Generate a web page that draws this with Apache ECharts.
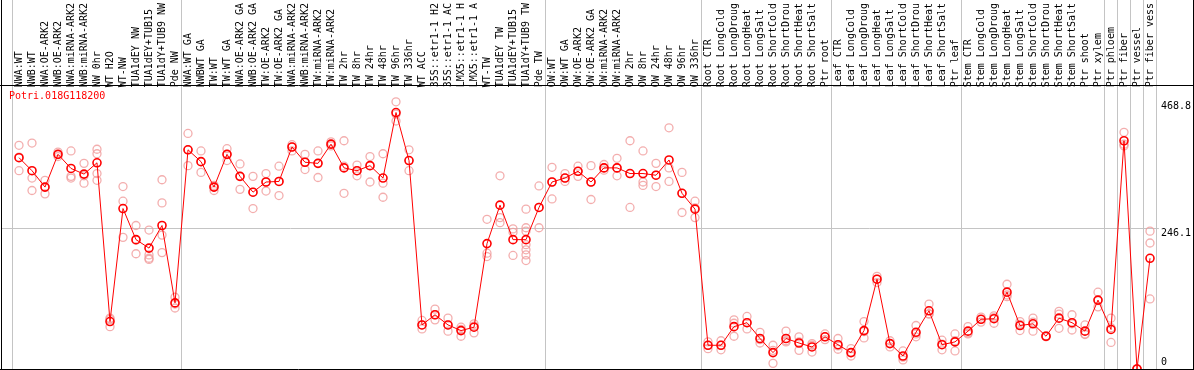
<!DOCTYPE html>
<html><head><meta charset="utf-8">
<script src="https://cdn.jsdelivr.net/npm/echarts@6/dist/echarts.min.js"></script>
<style>html,body{margin:0;padding:0;background:#fff}#c{width:1194px;height:370px}</style>
</head><body><div id="c"></div>
<script>
const geneTitle = 'Potri.018G118200';
const categories = [
 'NWA:WT','NWB:WT','NWA:OE-ARK2','NWB:OE-ARK2','NWA:miRNA-ARK2','NWB:miRNA-ARK2','NW 0hr','WT H2O','WT-NW','TUA1dEY NW','TUA1dEY+TUB15','TUA1dY+TUB9 NW','Pde NW',
 'NWA:WT GA','NWBWT GA','TW:WT','TW:WT GA','NWA:OE-ARK2 GA','NWB:OE-ARK2 GA','TW:OE-ARK2','TW:OE-ARK2 GA','NWA:miRNA-ARK2','NWB:miRNA-ARK2','TW:miRNA-ARK2','TW:miRNA-ARK2',
 'TW 2hr','TW 8hr','TW 24hr','TW 48hr','TW 96hr','TW 336hr','WT ACC','35S::etr1-1 H2','35S::etr1-1 AC','LMX5::etr1-1 H','LMX5::etr1-1 A','WT-TW','TUA1dEY TW','TUA1dEY+TUB15','TUA1dY+TUB9 TW','Pde TW',
 'OW:WT','OW:WT GA','OW:OE-ARK2','OW:OE-ARK2 GA','OW:miRNA-ARK2','OW:miRNA-ARK2','OW 2hr','OW 8hr','OW 24hr','OW 48hr','OW 96hr','OW 336hr',
 'Root CTR','Root LongCold','Root LongDroug','Root LongHeat','Root LongSalt','Root ShortCold','Root ShortDrou','Root ShortHeat','Root ShortSalt','Ptr root',
 'Leaf CTR','Leaf LongCold','Leaf LongDroug','Leaf LongHeat','Leaf LongSalt','Leaf ShortCold','Leaf ShortDrou','Leaf ShortHeat','Leaf ShortSalt','Ptr leaf',
 'Stem CTR','Stem LongCold','Stem LongDroug','Stem LongHeat','Stem LongSalt','Stem ShortCold','Stem ShortDrou','Stem ShortHeat','Stem ShortSalt','Ptr shoot','Ptr xylem',
 'Ptr phloem','Ptr fiber','Ptr vessel','Ptr fiber vess'
];
const meanValues = [
 374,351,322,380,355,345,365,84,284,229,214,254,117,
 388,367,322,380,341,313,331,332,393,366,364,398,356,351,360,338,454,369,78,96,78,68,74,222,290,229,229,286,
 331,338,350,331,356,356,346,346,343,370,311,283,
 42,42,75,82,54,29,54,46,39,57,
 43,29,68,159,45,23,65,103,43,48,
 67,88,89,136,77,80,58,90,82,67,122,
 70,404,0,196
];
const replicateValues = [
 [396,351,375],[400,338,316],[334,310,322],[384,376,380],[386,341,338],[364,329,342],[389,381,346,334],[75,90,88],[323,297,233],[254,204,228],[246,202,194,196],[335,294,237,206],[127,108,115],
 [417,360,388],[386,348,367],[325,316,322],[390,369,380],[363,318,341],[341,284,313],[346,315,331],[359,307,332],[397,386,393],[380,353,366],[386,339,364],[402,395,398],
 [404,311,359],[361,342,351],[376,331,360],[381,329,304],[473,439,451],[388,351,369],[86,71,78],[106,87,96],[90,67,78],[74,58,70],[80,64,76],[265,205,199],[342,268,259],[248,242,201],[283,250,244,220,211,202,192],[324,250,286],
 [357,301,331],[346,332,338],[359,341,350],[360,300,331],[362,352,356],[373,342,356],[404,286,346],[386,331,325],[364,323,343],[427,356,332],[348,277,311],[297,268,285],
 [48,36,42],[50,34,42],[87,58,81],[93,71,82],[65,46,52],[42,10,33],[67,48,50],[57,33,48],[45,30,42],[62,52,57],
 [54,35,41],[36,23,29],[84,55,66],[164,153,159],[39,50,45],[32,16,21],[77,57,62],[115,97,98],[51,34,44],[62,32,50],
 [75,62,64],[92,83,88],[94,81,91],[150,128,131],[84,68,79],[90,67,83],[58,57,59],[102,72,97],[96,69,80],[78,61,62],[136,110,121],
 [90,47,73],[419,398,395],[0,0,0],[244,223,124]
];
const groupStarts = [0,13,41,53,63,73,84,85,86,87];
const yMax = 496.9;
const yLabelsTop = [246.1, 468.8];
const yLabelsBottom = [0];
const gridLineValues = [246.1];

const mono = 'DejaVu Sans Mono';
const scatterData = [];
replicateValues.forEach((arr, i) => arr.forEach(v => scatterData.push([i, v])));

const chart = echarts.init(document.getElementById('c'), null, {renderer: 'canvas'});
chart.setOption({
  animation: false,
  backgroundColor: '#fff',
  title: {text: geneTitle, left: 9, top: 91, padding: 0,
    textStyle: {color: '#ff0000', fontFamily: mono, fontSize: 10, fontWeight: 'normal'}},
  grid: [
    {left: 12.5, width: 1144, top: 85, height: 284},
    {left: 12.5, width: 1144, top: 0, height: 369},
    {left: 1, width: 1160, top: 85, height: 284}
  ],
  xAxis: [
    {type: 'category', gridIndex: 0, position: 'top', data: categories, boundaryGap: true,
     axisLine: {show: false}, axisTick: {show: false}, splitLine: {show: false},
     axisLabel: {interval: 0, rotate: 90, margin: 1, fontFamily: mono, fontSize: 10, color: '#000'}},
    {type: 'category', gridIndex: 1, data: categories, boundaryGap: true,
     axisLine: {show: false}, axisTick: {show: false}, axisLabel: {show: false},
     splitLine: {show: true, interval: (idx) => groupStarts.includes(idx), lineStyle: {color: '#c4c4c4', width: 1}}},
    {type: 'value', gridIndex: 2, min: 0, max: 1, show: false}
  ],
  yAxis: [
    {type: 'value', gridIndex: 0, min: 0, max: yMax, show: false},
    {type: 'value', gridIndex: 1, min: 0, max: 1, show: false},
    {type: 'value', gridIndex: 2, position: 'right', min: 0, max: yMax,
     axisLine: {show: false}, axisTick: {show: false, customValues: gridLineValues},
     splitLine: {show: true, lineStyle: {color: '#c4c4c4', width: 1}},
     axisLabel: {customValues: yLabelsTop, verticalAlign: 'top', margin: 2, fontFamily: mono, fontSize: 10, color: '#000'}},
    {type: 'value', gridIndex: 2, position: 'right', min: 0, max: yMax,
     axisLine: {show: false}, axisTick: {show: false}, splitLine: {show: false},
     axisLabel: {customValues: yLabelsBottom, verticalAlign: 'bottom', margin: 2, padding: [0,0,2,0], fontFamily: mono, fontSize: 10, color: '#000'}}
  ],
  series: [
    {type: 'scatter', xAxisIndex: 0, yAxisIndex: 0, data: scatterData, symbol: 'circle', symbolSize: 8,
     itemStyle: {color: 'rgba(0,0,0,0)', borderColor: '#f09a9a', borderWidth: 1.3}, z: 2, silent: true},
    {type: 'line', xAxisIndex: 0, yAxisIndex: 0, data: meanValues, symbol: 'circle', symbolSize: 8, showSymbol: true,
     itemStyle: {color: 'rgba(255,255,255,0)', borderColor: '#ff0000', borderWidth: 1.6},
     lineStyle: {color: '#ff0000', width: 1}, z: 3, silent: true}
  ],
  graphic: [
    {type: 'line', shape: {x1: 1.5, y1: 0, x2: 1.5, y2: 370}, style: {stroke: '#000', lineWidth: 1}, z: 10},
    {type: 'line', shape: {x1: 1193.5, y1: 0, x2: 1193.5, y2: 370}, style: {stroke: '#000', lineWidth: 1}, z: 10},
    {type: 'line', shape: {x1: 0, y1: 85.5, x2: 1194, y2: 85.5}, style: {stroke: '#000', lineWidth: 1}, z: 10},
    {type: 'line', shape: {x1: 0, y1: 369.5, x2: 1194, y2: 369.5}, style: {stroke: '#000', lineWidth: 1}, z: 10}
  ]
});
</script></body></html>
